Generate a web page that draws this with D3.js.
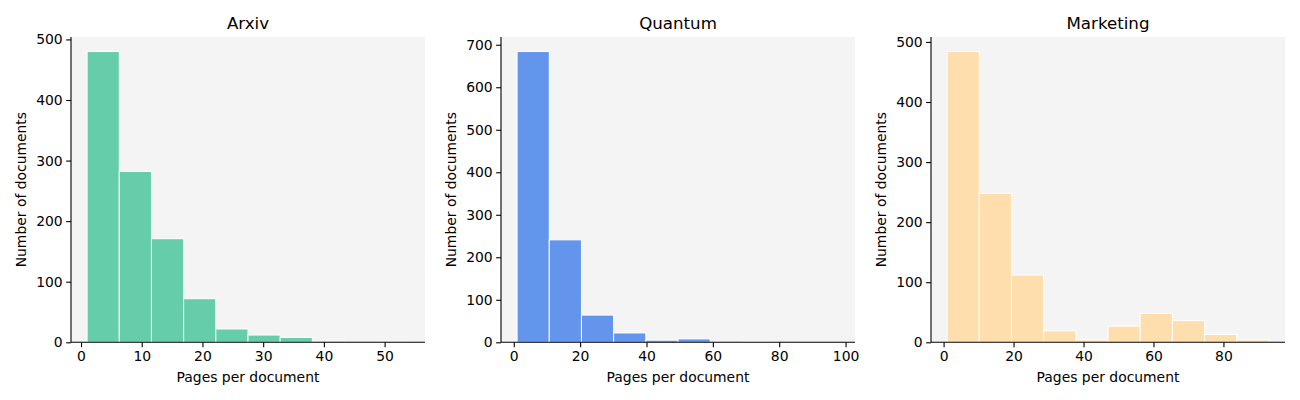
<!DOCTYPE html>
<html>
<head>
<meta charset="utf-8">
<script src="https://cdn.jsdelivr.net/npm/d3@7"></script>
<style>
  body { margin: 0; background: #ffffff; }
  svg { display: block; font-family: "DejaVu Sans", sans-serif; }
</style>
</head>
<body>
<svg id="chart" width="1300" height="400"></svg>
<script>
// ---- Data ----
const titles = ["Arxiv", "Quantum", "Marketing"];
const colors = ["#66CDAA", "#6495ED", "#FFDEAD"];
// histogram range (min / max pages) for each panel, 10 equal bins
const pageMin = [1, 1, 1];
const pageMax = [54, 98, 93];
const arxivCounts = [480, 282, 171, 72, 22, 12, 8, 2, 0, 1];
const quantumCounts = [684, 241, 64, 22, 5, 8, 0, 2, 0, 1];
const marketingCounts = [484, 248, 112, 19, 4, 27, 48, 36, 13, 4];
const countsList = [arxivCounts, quantumCounts, marketingCounts];
const xTicks = [[0, 10, 20, 30, 40, 50], [0, 20, 40, 60, 80, 100], [0, 20, 40, 60, 80]];
const yTicks = [[0, 100, 200, 300, 400, 500], [0, 100, 200, 300, 400, 500, 600, 700], [0, 100, 200, 300, 400, 500]];
const xLabel = "Pages per document";
const yLabel = "Number of documents";

// ---- Layout ----
const svg = d3.select("#chart");
const axLefts = [71, 501, 931];
const axW = 354;
const axTop = 37, axBottom = 342.3;
const fs = 13.9;
const tick = 4.86;

titles.forEach((title, i) => {
  const counts = countsList[i];
  const nb = counts.length;
  const lo = pageMin[i], hi = pageMax[i];
  const w = (hi - lo) / nb;
  const bins = counts.map((c, k) => ({x0: lo + k * w, x1: lo + (k + 1) * w, c}));
  const pad = 0.05 * (hi - lo);
  const x = d3.scaleLinear().domain([lo - pad, hi + pad]).range([axLefts[i], axLefts[i] + axW]);
  const y = d3.scaleLinear().domain([0, 1.05 * d3.max(counts)]).range([axBottom, axTop]);

  const g = svg.append("g");
  g.append("rect")
    .attr("x", axLefts[i]).attr("y", axTop)
    .attr("width", axW).attr("height", axBottom - axTop)
    .attr("fill", "#f4f4f4");

  g.selectAll("rect.bar").data(bins).enter().append("rect")
    .attr("class", "bar")
    .attr("x", d => x(d.x0))
    .attr("width", d => x(d.x1) - x(d.x0))
    .attr("y", d => y(d.c))
    .attr("height", d => y(0) - y(d.c))
    .attr("fill", colors[i])
    .attr("stroke", "#ffffff")
    .attr("stroke-width", 1);

  const xAxis = d3.axisBottom(x).tickValues(xTicks[i]).tickSize(tick).tickPadding(3.5).tickSizeOuter(0);
  const gx = g.append("g").attr("transform", `translate(0,${axBottom})`).call(xAxis);
  const yAxis = d3.axisLeft(y).tickValues(yTicks[i]).tickSize(tick).tickPadding(3.5).tickSizeOuter(0);
  const gy = g.append("g").attr("transform", `translate(${axLefts[i]},0)`).call(yAxis);
  [gx, gy].forEach(a => {
    a.selectAll("text").attr("font-size", fs).attr("font-family", "DejaVu Sans").attr("fill", "#000");
    a.selectAll("line").attr("stroke", "#000").attr("stroke-width", 1.1);
    a.select(".domain").remove();
  });
  // spines
  g.append("line").attr("x1", axLefts[i]).attr("x2", axLefts[i] + axW)
    .attr("y1", axBottom).attr("y2", axBottom).attr("stroke", "#000").attr("stroke-width", 1.1);
  g.append("line").attr("x1", axLefts[i]).attr("x2", axLefts[i])
    .attr("y1", axTop).attr("y2", axBottom).attr("stroke", "#000").attr("stroke-width", 1.1);

  g.append("text")
    .attr("x", axLefts[i] + axW / 2).attr("y", 28.5)
    .attr("text-anchor", "middle").attr("font-size", 16.67).text(title);
  g.append("text")
    .attr("x", axLefts[i] + axW / 2).attr("y", 381.5)
    .attr("text-anchor", "middle").attr("font-size", fs).text(xLabel);
  g.append("text")
    .attr("transform", `translate(${axLefts[i] - 45.5},${(axTop + axBottom) / 2}) rotate(-90)`)
    .attr("text-anchor", "middle").attr("font-size", fs).text(yLabel);
});
</script>
</body>
</html>
